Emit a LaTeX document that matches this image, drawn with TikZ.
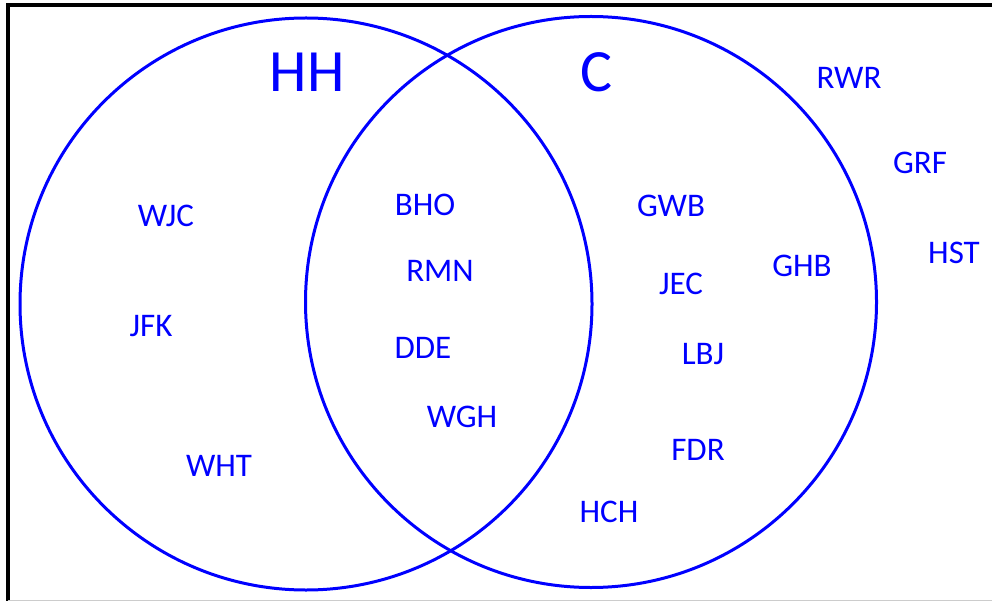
\documentclass[tikz,border=0pt]{standalone}
\usepackage{fontspec}
\setmainfont{Carlito}
\definecolor{vblue}{RGB}{0,0,255}
\begin{document}
\begin{tikzpicture}[x=1pt,y=-1pt,
  ring/.style={draw=vblue,line width=3pt},
  lbl/.style={text=vblue,font=\fontsize{33}{33}\selectfont,inner sep=0pt,anchor=center},
  big/.style={text=vblue,font=\fontsize{60}{60}\selectfont,inner sep=0pt,anchor=center}]
\useasboundingbox (0,0) rectangle (992,601);
\fill[white] (0,0) rectangle (992,601);
% frame
\draw[black,line width=4pt] (8,601) -- (8,5) -- (992,5);
\draw[black!20,line width=1pt] (8,600.5) -- (992,600.5);
% circles
\node[ring,circle,minimum size=572pt,inner sep=0pt] (hh) at (306,304) {};
\node[ring,circle,minimum size=571pt,inner sep=0pt] (c) at (591,302) {};
% titles
\node[big] (thh) at (307,72) {HH};
\node[big] (tc) at (596,72) {C};
% labels
\node[lbl] (rwr) at (849,78) {RWR};
\node[lbl] (grf) at (920,163) {GRF};
\node[lbl] (hst) at (954,253) {HST};
\node[lbl] (wjc) at (166,216) {WJC};
\node[lbl] (jfk) at (151,326) {JFK};
\node[lbl] (wht) at (219,466) {WHT};
\node[lbl] (bho) at (425,205) {BHO};
\node[lbl] (rmn) at (440,271) {RMN};
\node[lbl] (dde) at (423,348) {DDE};
\node[lbl] (wgh) at (462,417) {WGH};
\node[lbl] (gwb) at (671,206) {GWB};
\node[lbl] (jec) at (681,284) {JEC};
\node[lbl] (ghb) at (802,266) {GHB};
\node[lbl] (lbj) at (703,354) {LBJ};
\node[lbl] (fdr) at (698,450) {FDR};
\node[lbl] (hch) at (609,512) {HCH};
\end{tikzpicture}
\end{document}
